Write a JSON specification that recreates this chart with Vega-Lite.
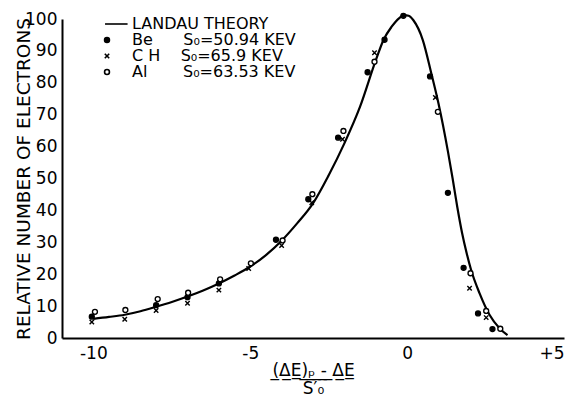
{
  "$schema": "https://vega.github.io/schema/vega-lite/v6.json",
  "autosize": "none",
  "padding": {"left": 62, "top": 19, "right": 7, "bottom": 58},
  "width": 502,
  "height": 319,
  "background": "white",
  "config": {
    "view": {"stroke": null},
    "font": "DejaVu Sans",
    "axis": {
      "domain": true, "domainColor": "black", "domainWidth": 2,
      "ticks": false, "tickSize": 0,
      "grid": false, "labelColor": "black", "titleColor": "black",
      "labelFont": "DejaVu Sans", "titleFont": "DejaVu Sans", "titleFontWeight": "normal"
    }
  },
  "datasets": {
    "curve": [
      {"x": -10, "y": 6.0}, {"x": -9.5, "y": 6.6}, {"x": -9, "y": 7.3}, {"x": -8.5, "y": 8.4},
      {"x": -8, "y": 9.8}, {"x": -7.5, "y": 11.3}, {"x": -7, "y": 13.0}, {"x": -6.5, "y": 14.9},
      {"x": -6, "y": 17.1}, {"x": -5.5, "y": 19.6}, {"x": -5, "y": 22.4}, {"x": -4.5, "y": 26.0},
      {"x": -4, "y": 30.5}, {"x": -3.5, "y": 36.0}, {"x": -3, "y": 42.2}, {"x": -2.5, "y": 51.0},
      {"x": -2, "y": 61.0}, {"x": -1.5, "y": 72.5}, {"x": -1, "y": 87.0}, {"x": -0.75, "y": 93.5},
      {"x": -0.5, "y": 97.5}, {"x": -0.25, "y": 100.3}, {"x": -0.1, "y": 101.2}, {"x": 0.05, "y": 101.0},
      {"x": 0.2, "y": 99.6}, {"x": 0.5, "y": 93.4}, {"x": 0.77, "y": 83.0}, {"x": 1.0, "y": 73.5},
      {"x": 1.3, "y": 58.5}, {"x": 1.45, "y": 50.0}, {"x": 1.6, "y": 41.0}, {"x": 1.75, "y": 33.0},
      {"x": 1.9, "y": 26.5}, {"x": 2.04, "y": 21.3}, {"x": 2.31, "y": 14.0}, {"x": 2.63, "y": 7.2},
      {"x": 2.95, "y": 3.0}, {"x": 3.2, "y": 0.9}
    ],
    "points": [
      {"series": "Be", "x": -10.05, "y": 6.7}, {"series": "Be", "x": -8, "y": 10.3},
      {"series": "Be", "x": -7, "y": 12.8}, {"series": "Be", "x": -6, "y": 17.1},
      {"series": "Be", "x": -4.18, "y": 30.8}, {"series": "Be", "x": -3.15, "y": 43.5},
      {"series": "Be", "x": -2.2, "y": 62.8}, {"series": "Be", "x": -1.26, "y": 83.3},
      {"series": "Be", "x": -0.72, "y": 93.5}, {"series": "Be", "x": -0.12, "y": 101.0},
      {"series": "Be", "x": 0.73, "y": 82.0}, {"series": "Be", "x": 1.3, "y": 45.5},
      {"series": "Be", "x": 1.8, "y": 22.0}, {"series": "Be", "x": 2.26, "y": 7.7},
      {"series": "Be", "x": 2.72, "y": 2.8},
      {"series": "CH", "x": -10.05, "y": 5.0}, {"series": "CH", "x": -9, "y": 5.9},
      {"series": "CH", "x": -8, "y": 8.6}, {"series": "CH", "x": -7, "y": 10.9},
      {"series": "CH", "x": -6, "y": 15.0}, {"series": "CH", "x": -5.05, "y": 21.8},
      {"series": "CH", "x": -4, "y": 29.0}, {"series": "CH", "x": -3.04, "y": 42.4},
      {"series": "CH", "x": -2.06, "y": 62.3}, {"series": "CH", "x": -1.04, "y": 89.4},
      {"series": "CH", "x": 0.9, "y": 75.4}, {"series": "CH", "x": 1.99, "y": 15.6},
      {"series": "CH", "x": 2.52, "y": 6.4},
      {"series": "Al", "x": -9.95, "y": 8.2}, {"series": "Al", "x": -8.98, "y": 8.8},
      {"series": "Al", "x": -7.95, "y": 12.2}, {"series": "Al", "x": -6.98, "y": 14.2},
      {"series": "Al", "x": -5.96, "y": 18.4}, {"series": "Al", "x": -4.98, "y": 23.4},
      {"series": "Al", "x": -3.97, "y": 30.6}, {"series": "Al", "x": -3.02, "y": 45.1},
      {"series": "Al", "x": -2.03, "y": 64.9}, {"series": "Al", "x": -1.04, "y": 86.6},
      {"series": "Al", "x": 0.98, "y": 70.9}, {"series": "Al", "x": 2.02, "y": 20.3},
      {"series": "Al", "x": 2.52, "y": 8.5}, {"series": "Al", "x": 2.97, "y": 2.9}
    ],
    "xticks": [
      {"x": -10}, {"x": -9}, {"x": -8}, {"x": -7}, {"x": -6}, {"x": -5}, {"x": -4}, {"x": -3},
      {"x": -2}, {"x": -1}, {"x": 0}, {"x": 1}, {"x": 2}, {"x": 3}, {"x": 4}, {"x": 5}
    ],
    "yticks": [
      {"y": 10}, {"y": 20}, {"y": 30}, {"y": 40}, {"y": 50}, {"y": 60}, {"y": 70}, {"y": 80}, {"y": 90}, {"y": 100}
    ]
  },
  "encoding": {
    "x": {"field": "x", "type": "quantitative",
      "scale": {"domain": [-11, 5], "nice": false, "zero": false},
      "axis": {
        "values": [-10, -9, -8, -7, -6, -5, -4, -3, -2, -1, 0, 1, 2, 3, 4, 5],
        "labelExpr": "datum.value == -10 ? '-10' : datum.value == -5 ? '-5' : datum.value == 0 ? '0' : datum.value == 5 ? '+5' : ''",
        "ticks": false, "tickSize": 0,
        "labelFontSize": 17, "labelPadding": 7, "labelFlush": true, "labelOverlap": false,
        "title": ["(\u0332\u0394\u0332E\u0332)\u0332\u209a\u0332\u00a0\u0332-\u0332\u00a0\u0332\u0394\u0332E\u0332", "S\u2032\u2080"],
        "titleFontSize": 17, "titleLineHeight": 18, "titlePadding": 1
      }
    },
    "y": {"field": "y", "type": "quantitative",
      "scale": {"domain": [0, 100], "nice": false},
      "axis": {
        "values": [0, 10, 20, 30, 40, 50, 60, 70, 80, 90, 100],
        "ticks": false, "tickSize": 0,
        "labelFontSize": 17, "labelPadding": 5, "labelOverlap": false,
        "title": "RELATIVE NUMBER OF ELECTRONS", "titleFontSize": 18.5, "titlePadding": -9
      }
    }
  },
  "layer": [
    {
      "data": {"name": "xticks"},
      "mark": {"type": "rule", "color": "black", "strokeWidth": 2},
      "encoding": {
        "y": {"datum": 0},
        "y2": {"datum": 1.6}
      }
    },
    {
      "data": {"name": "yticks"},
      "mark": {"type": "rule", "color": "black", "strokeWidth": 2},
      "encoding": {
        "x": {"datum": -11},
        "x2": {"datum": -10.84}
      }
    },
    {
      "data": {"name": "curve"},
      "mark": {"type": "line", "color": "black", "strokeWidth": 2.2, "interpolate": "monotone"}
    },
    {
      "data": {"name": "points"},
      "transform": [
        {"calculate": "datum.series == 'Be' ? 'Be\u00a0\u00a0\u00a0\u00a0\u00a0\u00a0S\u2080=50.94 KEV' : datum.series == 'CH' ? 'C H\u00a0\u00a0\u00a0\u00a0S\u2080=65.9 KEV' : 'Al\u00a0\u00a0\u00a0\u00a0\u00a0\u00a0\u00a0S\u2080=63.53 KEV'", "as": "label"}
      ],
      "mark": {"type": "point", "stroke": "black", "strokeWidth": 1.4, "size": 24, "opacity": 1},
      "encoding": {
        "shape": {"field": "label", "type": "nominal",
          "scale": {
            "domain": ["LANDAU THEORY", "Be\u00a0\u00a0\u00a0\u00a0\u00a0\u00a0S\u2080=50.94 KEV", "C H\u00a0\u00a0\u00a0\u00a0S\u2080=65.9 KEV", "Al\u00a0\u00a0\u00a0\u00a0\u00a0\u00a0\u00a0S\u2080=63.53 KEV"],
            "range": ["M-0.8,0L8.4,0", "circle", "M-0.9,-0.9L0.9,0.9M-0.9,0.9L0.9,-0.9", "circle"]
          },
          "legend": {
            "title": null, "orient": "none", "legendX": 37, "legendY": -3,
            "labelFont": "DejaVu Sans", "labelFontSize": 16, "labelColor": "black",
            "labelOffset": 17, "labelLimit": 400, "rowPadding": -4, "padding": 0,
            "symbolSize": 24, "symbolStrokeColor": "black", "symbolStrokeWidth": 1.6
          }
        },
        "fill": {"field": "label", "type": "nominal",
          "scale": {
            "domain": ["LANDAU THEORY", "Be\u00a0\u00a0\u00a0\u00a0\u00a0\u00a0S\u2080=50.94 KEV", "C H\u00a0\u00a0\u00a0\u00a0S\u2080=65.9 KEV", "Al\u00a0\u00a0\u00a0\u00a0\u00a0\u00a0\u00a0S\u2080=63.53 KEV"],
            "range": ["black", "black", "black", "white"]
          },
          "legend": {
            "title": null, "orient": "none", "legendX": 37, "legendY": -3,
            "labelFont": "DejaVu Sans", "labelFontSize": 16, "labelColor": "black",
            "labelOffset": 17, "labelLimit": 400, "rowPadding": -4, "padding": 0,
            "symbolSize": 24, "symbolStrokeColor": "black", "symbolStrokeWidth": 1.6
          }
        },
        "stroke": {"field": "label", "type": "nominal",
          "scale": {
            "domain": ["LANDAU THEORY", "Be\u00a0\u00a0\u00a0\u00a0\u00a0\u00a0S\u2080=50.94 KEV", "C H\u00a0\u00a0\u00a0\u00a0S\u2080=65.9 KEV", "Al\u00a0\u00a0\u00a0\u00a0\u00a0\u00a0\u00a0S\u2080=63.53 KEV"],
            "range": ["black", "black", "black", "black"]
          },
          "legend": {
            "title": null, "orient": "none", "legendX": 37, "legendY": -3,
            "labelFont": "DejaVu Sans", "labelFontSize": 16, "labelColor": "black",
            "labelOffset": 17, "labelLimit": 400, "rowPadding": -4, "padding": 0,
            "symbolSize": 24, "symbolStrokeColor": "black", "symbolStrokeWidth": 1.6
          }
        }
      }
    }
  ]
}
